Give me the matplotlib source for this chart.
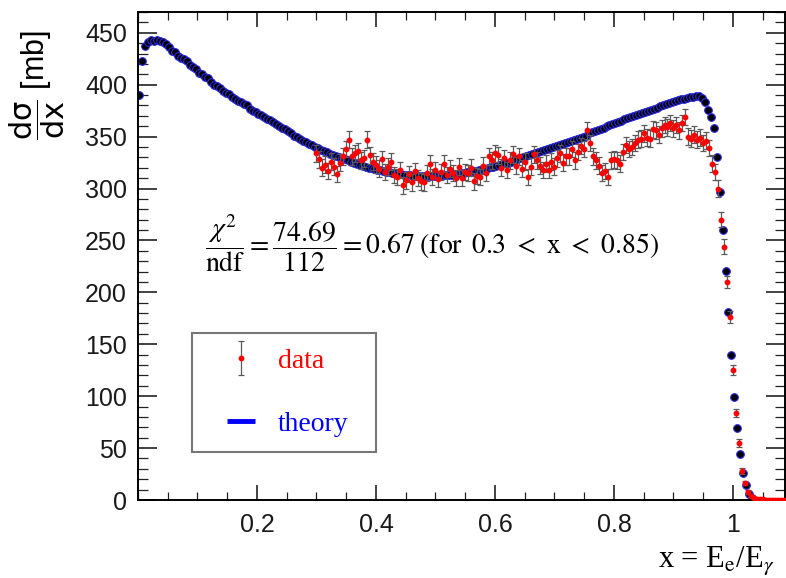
import numpy as np
import matplotlib
matplotlib.use("Agg")
import matplotlib.pyplot as plt
from matplotlib.lines import Line2D
from matplotlib.legend_handler import HandlerErrorbar
from matplotlib.ticker import FixedLocator, MultipleLocator

# bin width of the x = Ee/Egamma histograms
BIN = 0.005

# theory: d sigma/dx [mb], bin centres starting at x = 0.0025
theory_y = [
    390, 423, 437, 441, 443, 442, 443, 442, 441, 439,
    436, 432, 431, 428, 426, 425, 423, 419, 417, 415,
    411, 410, 407, 406, 403, 400, 399, 397, 394, 392,
    391, 388, 386, 384, 383, 381, 380, 377, 375, 374,
    372, 371, 369, 367, 366, 364, 362, 360, 358, 357,
    355, 353, 351, 350, 348, 346, 345, 343, 342, 340,
    339, 337, 336, 335, 333, 332, 331, 330, 329, 328,
    327, 326, 325, 324, 323, 322, 321, 320, 320, 319,
    318, 318, 317, 316, 316, 315, 315, 314, 314, 313,
    313, 313, 312, 312, 312, 312, 312, 312, 312, 312,
    312, 312, 313, 313, 313, 313, 314, 314, 315, 315,
    316, 316, 317, 317, 318, 319, 319, 320, 321, 321,
    322, 323, 324, 325, 325, 326, 327, 328, 329, 330,
    331, 332, 333, 334, 335, 336, 337, 338, 339, 340,
    341, 342, 343, 344, 345, 346, 347, 348, 349, 350,
    351, 353, 354, 355, 356, 357, 358, 360, 361, 362,
    363, 364, 365, 367, 368, 369, 370, 371, 372, 373,
    374, 375, 376, 377, 378, 379, 380, 381, 382, 383,
    384, 385, 386, 386, 387, 388, 388, 389, 389, 387,
    383, 376, 369, 358, 330, 297, 260, 221, 181, 140,
    99, 69, 44, 26, 14, 6, 2,
]

# measured data: d sigma/dx [mb] and errors, bin centres starting at x = 0.300
data_y = [
    334, 328, 320, 323, 317, 326, 321, 314, 325, 331,
    338, 347, 331, 334, 336, 327, 329, 347, 332, 326,
    323, 319, 328, 316, 321, 326, 313, 311, 318, 303,
    308, 314, 306, 317, 310, 307, 306, 315, 324, 311,
    318, 309, 316, 324, 313, 319, 315, 310, 321, 310,
    316, 315, 320, 307, 312, 311, 322, 315, 331, 327,
    334, 332, 320, 329, 318, 327, 333, 322, 331, 319,
    326, 311, 321, 333, 327, 322, 318, 324, 318, 326,
    321, 329, 334, 325, 331, 331, 338, 327, 335, 341,
    338, 356, 344, 331, 327, 322, 315, 317, 311, 327,
    328, 327, 324, 335, 342, 338, 340, 344, 347, 348,
    353, 349, 348, 357, 356, 352, 358, 361, 359, 363,
    358, 361, 356, 363, 369, 350, 348, 352, 347, 349,
    344, 346, 339, 324, 316, 300, 270, 244, 210, 176,
    125, 84, 55, 28, 16, 8, 4, 2, 1.0, 0.6,
    0.5, 0.4, 0.3, 0.3, 0.2, 0.2, 0.1, 0.1,
]
data_err = [
    8, 8, 8, 8, 8, 8, 8, 8, 8, 8,
    8, 8, 8, 8, 8, 8, 8, 8, 8, 8,
    8, 8, 8, 8, 8, 8, 8, 8, 8, 8,
    8, 8, 8, 8, 8, 8, 8, 8, 8, 8,
    8, 8, 8, 8, 8, 8, 8, 8, 8, 8,
    8, 8, 8, 8, 8, 8, 8, 8, 8, 8,
    8, 8, 8, 8, 8, 8, 8, 8, 8, 8,
    8, 8, 8, 8, 8, 8, 8, 8, 8, 8,
    8, 8, 8, 8, 8, 8, 8, 8, 8, 8,
    8, 8, 8, 8, 8, 8, 8, 8, 8, 8,
    8, 8, 8, 8, 8, 8, 8, 8, 8, 8,
    8, 8, 8, 8, 8, 8, 8, 8, 8, 8,
    8, 8, 8, 8, 8, 8, 8, 8, 8, 8,
    8, 8, 8, 8, 8, 8, 7, 7, 6, 6,
    5, 4, 4, 3, 2, 2, 1, 1, 0.5, 0.5,
    0.3, 0.3, 0.3, 0.3, 0.2, 0.2, 0.1, 0.1,
]

theory_x = 0.0025 + BIN * np.arange(len(theory_y))
data_x = 0.300 + BIN * np.arange(len(data_y))

x_ticks = [0.2, 0.4, 0.6, 0.8, 1.0]
x_ticklabels = ["0.2", "0.4", "0.6", "0.8", "1"]

plt.rcParams["mathtext.fontset"] = "stix"
plt.rcParams["font.family"] = ["Liberation Sans", "DejaVu Sans"]

fig = plt.figure(figsize=(7.86, 5.78), dpi=100)
ax = fig.add_axes([138 / 786, 78 / 578, 647 / 786, 488 / 578])

ax.plot(theory_x, theory_y, ls="none", marker="o", ms=5.5, mfc="black",
        mec="#2a2ae0", mew=0.8, zorder=2)
eb = ax.errorbar(data_x, data_y, yerr=data_err, fmt="o", ms=3.2, color="red",
                 mec="red", ecolor="#5a5a5a", elinewidth=0.9, capsize=2.3,
                 capthick=0.9, zorder=3)

ax.set_xlim(0, 1.0875)
ax.set_ylim(0, 470)

ax.xaxis.set_major_locator(FixedLocator(x_ticks))
ax.set_xticklabels(x_ticklabels)
ax.xaxis.set_minor_locator(MultipleLocator(0.05))
ax.yaxis.set_major_locator(MultipleLocator(50))
ax.yaxis.set_minor_locator(MultipleLocator(10))

ax.tick_params(which="both", direction="in", top=True, right=True, color="#222222")
ax.tick_params(axis="x", which="major", length=11, width=1.2, pad=9, labelsize=18,
               labelcolor="#1a1a1a")
ax.tick_params(axis="x", which="minor", length=6, width=0.9)
ax.tick_params(axis="y", which="major", length=14, width=1.2, pad=8, labelsize=18,
               labelcolor="#1a1a1a")
ax.tick_params(axis="y", which="minor", length=7, width=0.9)
for sp in ax.spines.values():
    sp.set_linewidth(1.4)

ax.set_ylabel(r"$\dfrac{\mathrm{d\sigma}}{\mathrm{dx}}$ [mb]", fontsize=22,
              loc="top", va="center", math_fontfamily="dejavusans")
ax.yaxis.set_label_coords(-0.155, 0.963)

ax.set_xlabel(r"x = E$_{\mathrm{e}}$/E$_{\gamma}$", fontsize=22,
              family="Liberation Serif", loc="right", va="center")
ax.xaxis.set_label_coords(0.984, -0.123)

ax.text(0.103, 0.527,
        r"$\dfrac{\chi^{2}}{\mathrm{ndf}} = \dfrac{74.69}{112} = 0.67\;"
        r"(\mathrm{for}\ \,0.3\ <\ \mathrm{x}\ <\ 0.85)$",
        transform=ax.transAxes, fontsize=20, ha="left", va="center")

theory_key = Line2D([], [], ls="none", marker="_", ms=20, mew=3.5, color="blue")
leg = ax.legend([eb, theory_key], ["data", "theory"], loc="lower left",
                bbox_to_anchor=(0.0833, 0.098, 0.284, 0.244), mode="expand",
                prop={"family": "Liberation Serif", "size": 20},
                frameon=True, fancybox=False, framealpha=1, edgecolor="#777777",
                borderpad=0.56, labelspacing=1.35, handlelength=2.4,
                handletextpad=0.13, borderaxespad=0,
                handler_map={type(eb): HandlerErrorbar(yerr_size=0.62)})
leg.get_frame().set_linewidth(1.5)
for t, c in zip(leg.get_texts(), ["red", "blue"]):
    t.set_color(c)

fig.savefig("out.png", dpi=100)
